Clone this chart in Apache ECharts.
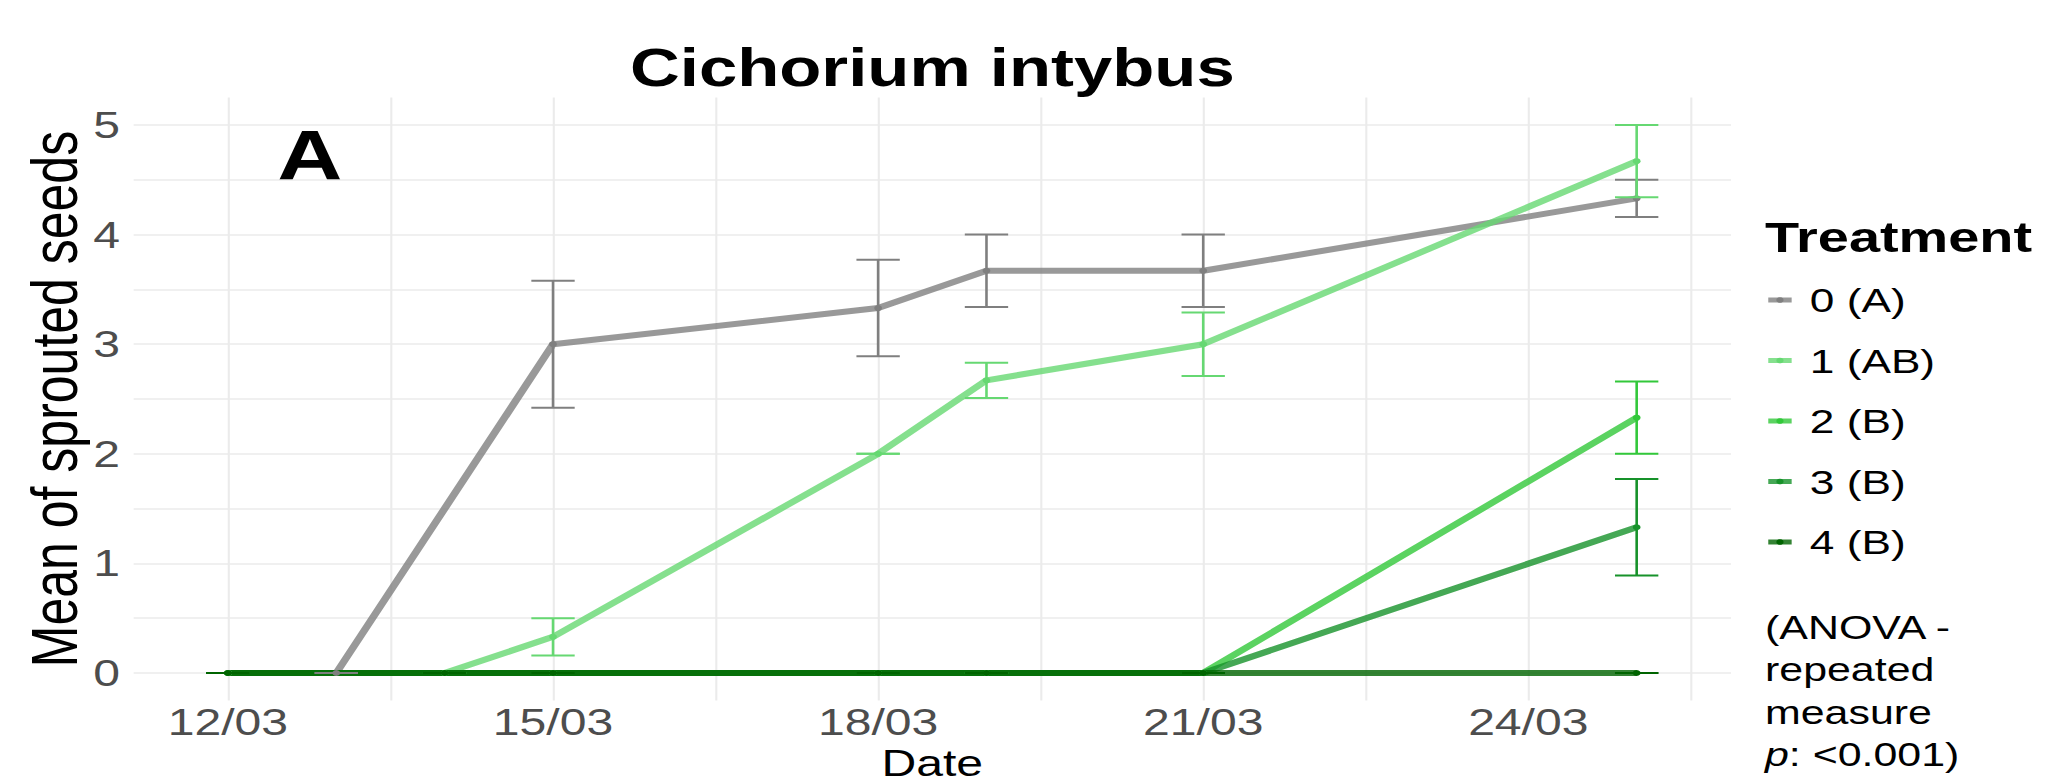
<!DOCTYPE html>
<html>
<head>
<meta charset="utf-8">
<title>Cichorium intybus</title>
<script src="https://cdn.jsdelivr.net/npm/echarts@6/dist/echarts.min.js"></script>
<style>
  html, body { margin: 0; padding: 0; background: #fff; overflow: hidden; }
  /* the original figure is stretched sideways, so draw narrow and widen it */
  #chart { width: 1578px; height: 783px; transform: scaleX(1.3); transform-origin: 0 0; }
</style>
</head>
<body>
<div id="chart"></div>
<script>
// day of March for each observation
var days = [12, 13, 14, 15, 18, 19, 21, 25]

var names = ['0 (A)', '1 (AB)', '2 (B)', '3 (B)', '4 (B)']
var colors = ['#7f7f7f', '#66d872', '#32c83a', '#17922a', '#006400']

// mean of sprouted seeds per treatment (null = not measured that day)
var mean0 = [0, 0, null, 3, 3.33, 3.67, 3.67, 4.33]
var mean1 = [0, null, 0, 0.33, 2, 2.67, 3, 4.67]
var mean2 = [0, null, 0, 0, 0, 0, 0, 2.33]
var mean3 = [0, null, 0, 0, 0, 0, 0, 1.33]
var mean4 = [0, null, 0, 0, 0, 0, 0, 0]

// standard error (half length of the error bar)
var se0 = [0, 0, null, 0.58, 0.44, 0.33, 0.33, 0.17]
var se1 = [0, null, 0, 0.17, 0, 0.16, 0.29, 0.33]
var se2 = [0, null, 0, 0, 0, 0, 0, 0.33]
var se3 = [0, null, 0, 0, 0, 0, 0, 0.44]
var se4 = [0, null, 0, 0, 0, 0, 0, 0]

var xTicks = [12, 15, 18, 21, 24]
var xGrid = [12, 13.5, 15, 16.5, 18, 19.5, 21, 22.5, 24, 25.5]
var yTicks = [0, 1, 2, 3, 4, 5]
var yGrid = [0, 0.5, 1, 1.5, 2, 2.5, 3, 3.5, 4, 4.5, 5]

var means = [mean0, mean1, mean2, mean3, mean4]
var ses = [se0, se1, se2, se3, se4]
var capHalf = 0.2 // days
var font = 'Liberation Sans'

function renderErrorBar(params, api) {
  var x = api.value(0)
  var top = api.coord([x, api.value(2)])
  var bot = api.coord([x, api.value(1)])
  var l = api.coord([x - capHalf, 0])[0]
  var r = api.coord([x + capHalf, 0])[0]
  var style = { stroke: api.visual('color'), lineWidth: 2 }
  return {
    type: 'group',
    children: [
      { type: 'line', shape: { x1: top[0], y1: top[1], x2: bot[0], y2: bot[1] }, style: style },
      { type: 'line', shape: { x1: l, y1: top[1], x2: r, y2: top[1] }, style: style },
      { type: 'line', shape: { x1: l, y1: bot[1], x2: r, y2: bot[1] }, style: style },
    ],
  }
}

var series = []
names.forEach(function (name, k) {
  var pts = []
  var bars = []
  days.forEach(function (d, i) {
    var m = means[k][i]
    if (m === null) return
    pts.push([d, m])
    bars.push([d, m - ses[k][i], m + ses[k][i]])
  })
  series.push({
    name: name,
    type: 'line',
    data: pts,
    symbol: 'circle',
    symbolSize: 6,
    lineStyle: { width: 6, color: colors[k], opacity: 0.8 },
    itemStyle: { color: colors[k] },
    z: 2,
  })
  series.push({
    name: name,
    type: 'custom',
    renderItem: renderErrorBar,
    data: bars,
    itemStyle: { color: colors[k] },
    encode: { x: 0, y: [1, 2] },
    z: 3,
  })
})

var chart = echarts.init(document.getElementById('chart'), null, { renderer: 'svg' })
var option = {
  animation: false,
  backgroundColor: '#fff',
  grid: { left: 102.8, right: 246.5, top: 97.6, bottom: 82.6, containLabel: false, outerBoundsMode: 'none' },
  xAxis: {
    type: 'value',
    min: 11.13,
    max: 25.87,
    name: 'Date',
    nameLocation: 'middle',
    nameMoveOverlap: false,
    nameGap: 80.8,
    nameTextStyle: { fontFamily: font, fontSize: 37, lineHeight: 37, verticalAlign: 'bottom', color: '#000' },
    axisLine: { show: false },
    axisTick: { show: false, customValues: xGrid },
    axisLabel: {
      customValues: xTicks,
      margin: 3,
      fontFamily: font,
      fontSize: 37,
      lineHeight: 37,
      color: '#4d4d4d',
      formatter: function (v) {
        return v + '/03'
      },
    },
    splitLine: { show: true, lineStyle: { color: '#ebebeb', width: 1.6 } },
  },
  yAxis: {
    type: 'value',
    min: -0.25,
    max: 5.25,
    name: 'Mean of sprouted seeds',
    nameLocation: 'middle',
    nameMoveOverlap: false,
    nameGap: 36,
    nameTextStyle: { fontFamily: font, fontSize: 50, color: '#000' },
    axisLine: { show: false },
    axisTick: { show: false, customValues: yGrid },
    axisLabel: {
      customValues: yTicks,
      margin: 10.5,
      fontFamily: font,
      fontSize: 37,
      color: '#4d4d4d',
    },
    splitLine: { show: true, lineStyle: { color: '#ebebeb', width: 1.6 } },
  },
  legend: {
    data: names,
    orient: 'vertical',
    left: 1357.7,
    top: 280,
    padding: 0,
    itemWidth: 18,
    itemHeight: 7,
    itemGap: 20.5,
    lineStyle: { width: 5 },
    textStyle: { fontFamily: font, fontSize: 34, lineHeight: 40, color: '#000', padding: [0, 0, 0, 9] },
  },
  graphic: [
    {
      type: 'text',
      style: {
        text: 'Cichorium intybus',
        x: 717.2,
        y: 67.5,
        align: 'center',
        verticalAlign: 'middle',
        fontFamily: font,
        fontWeight: 'bold',
        fontSize: 53,
        fill: '#000',
      },
    },
    {
      type: 'text',
      style: {
        text: 'A',
        x: 238.4,
        y: 155.4,
        align: 'center',
        verticalAlign: 'middle',
        fontFamily: font,
        fontWeight: 'bold',
        fontSize: 70,
        fill: '#000',
      },
    },
    {
      type: 'text',
      style: {
        text: 'Treatment',
        x: 1357.7,
        y: 237.5,
        align: 'left',
        verticalAlign: 'middle',
        fontFamily: font,
        fontWeight: 'bold',
        fontSize: 43,
        fill: '#000',
      },
    },
    {
      type: 'text',
      style: {
        text: '(ANOVA -\nrepeated\nmeasure\n{i|p}: <0.001)',
        x: 1357.7,
        y: 605.8,
        align: 'left',
        verticalAlign: 'top',
        fontFamily: font,
        fontSize: 33,
        lineHeight: 42.5,
        fill: '#000',
        rich: {
          i: { fontFamily: font, fontSize: 33, fontStyle: 'italic', lineHeight: 42.5, fill: '#000' },
        },
      },
    },
  ],
  series: series,
}
chart.setOption(option)
</script>
</body>
</html>
